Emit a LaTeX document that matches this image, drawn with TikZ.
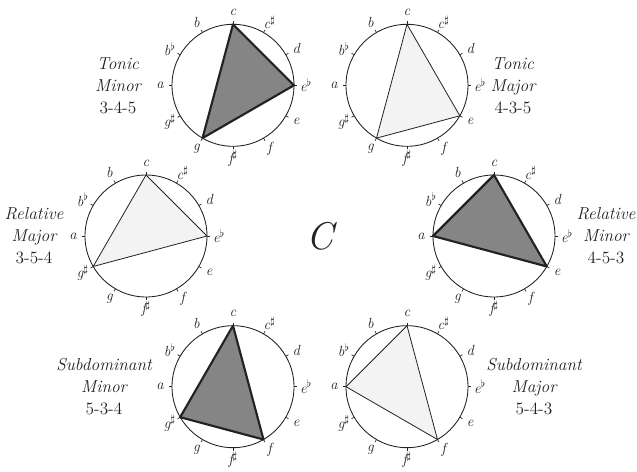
\documentclass[tikz,border=0pt]{standalone}
\usepackage{amsmath,amssymb}
\usepackage{tikz}
\usetikzlibrary{positioning,calc}
\usepackage{xcolor}
\definecolor{ink}{HTML}{222222}
\definecolor{shade}{HTML}{858585}
\definecolor{pale}{HTML}{F3F3F3}

\begin{document}
\begin{tikzpicture}[x=0.75pt, y=0.75pt, font=\fontsize{11}{13}\selectfont\itshape,
    wheel/.style={draw=ink, line width=0.65pt},
    pitch/.style={inner sep=0pt, text=ink},
    minortri/.style={draw=ink, line width=1.6pt, line join=round, fill=shade},
    majortri/.style={draw=ink, line width=0.6pt, line join=round, fill=pale},
    caption/.style={align=center, text=ink, font=\fontsize{13}{16.5}\selectfont\itshape}]
      \useasboundingbox (0,0) rectangle (637,472);
      \coordinate (o) at (320,236);
      \node[text=ink, font=\fontsize{29}{29}\selectfont\itshape] (key) at (o) {C};
      % six pitch wheels round the key
      \foreach \w/\ang in {tm/120, tj/60, rj/180, rm/0, sm/240, sj/300} {
        \coordinate (\w) at ($(o)+(\ang:174)$);
        \foreach \p [count=\k from 0] in {c, c$^\sharp$, d, e$^\flat$, e, f, f$^\sharp$, g, g$^\sharp$, a, b$^\flat$, b} {
          \coordinate (\w-\k) at ($(\w)+({90-30*\k}:61)$);
          \coordinate (\w-t\k) at ($(\w)+({90-30*\k}:64)$);
          \draw[ink, line width=0.5pt] (\w-\k) -- (\w-t\k);
          \node[pitch] (\w-n\k) at ($(\w)+({90-30*\k}:73)$) {\p};
        }
      }
      \draw[minortri] (tm-0) -- (tm-3) -- (tm-7) -- cycle;
      \draw[majortri] (tj-0) -- (tj-4) -- (tj-7) -- cycle;
      \draw[majortri] (rj-0) -- (rj-3) -- (rj-8) -- cycle;
      \draw[minortri] (rm-0) -- (rm-4) -- (rm-9) -- cycle;
      \draw[minortri] (sm-0) -- (sm-5) -- (sm-8) -- cycle;
      \draw[majortri] (sj-0) -- (sj-5) -- (sj-9) -- cycle;
      \foreach \w in {tm, tj, rj, rm, sm, sj}
        \draw[wheel] (\w) circle (61);
      \node[caption] (tm-cap) at ($(tm)+(-115,0)$) {Tonic\\Minor\\\upshape 3-4-5};
      \node[caption] (tj-cap) at ($(tj)+(106,0)$) {Tonic\\Major\\\upshape 4-3-5};
      \node[caption] (rj-cap) at ($(rj)+(-112,0)$) {Relative\\Major\\\upshape 3-5-4};
      \node[caption] (rm-cap) at ($(rm)+(112,0)$) {Relative\\Minor\\\upshape 4-5-3};
      \node[caption] (sm-cap) at ($(sm)+(-129,0)$) {Subdominant\\Minor\\\upshape 5-3-4};
      \node[caption] (sj-cap) at ($(sj)+(127,0)$) {Subdominant\\Major\\\upshape 5-4-3};
    \end{tikzpicture}
\end{document}
